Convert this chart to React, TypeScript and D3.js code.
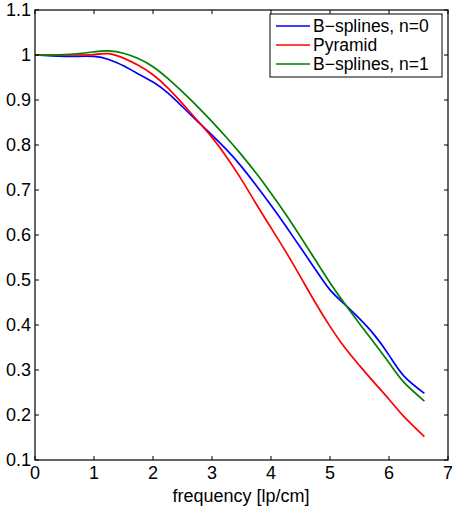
import React from "react";
import * as d3 from "d3";

const freq = [0, 0.5, 1.0, 1.25, 1.5, 1.75, 2.0, 2.25, 2.5, 2.75, 3.0, 3.25, 3.5, 3.75, 4.0, 4.25, 4.5, 4.75, 5.0, 5.25, 5.5, 5.75, 6.0, 6.25, 6.6];
const bsplines0 = [1.0, 0.997, 0.997, 0.99, 0.976, 0.958, 0.94, 0.916, 0.885, 0.853, 0.822, 0.789, 0.752, 0.71, 0.666, 0.62, 0.572, 0.524, 0.478, 0.446, 0.414, 0.378, 0.333, 0.287, 0.248];
const pyramid = [1.0, 1.0, 1.001, 1.003, 0.993, 0.977, 0.956, 0.927, 0.892, 0.855, 0.817, 0.773, 0.723, 0.669, 0.616, 0.563, 0.507, 0.45, 0.397, 0.35, 0.31, 0.272, 0.235, 0.197, 0.152];
const bsplines1 = [1.0, 1.001, 1.007, 1.009, 1.004, 0.992, 0.974, 0.948, 0.918, 0.886, 0.852, 0.816, 0.778, 0.737, 0.693, 0.646, 0.596, 0.545, 0.494, 0.447, 0.403, 0.36, 0.316, 0.273, 0.231];

const seriesNames = ["B\u2212splines, n=0", "Pyramid", "B\u2212splines, n=1"];
const seriesColors = ["#0000ff", "#ff0000", "#008000"];
const xTicks = [0, 1, 2, 3, 4, 5, 6, 7];
const yTicks = [0.1, 0.2, 0.3, 0.4, 0.5, 0.6, 0.7, 0.8, 0.9, 1, 1.1];
const xLabel = "frequency [lp/cm]";

export default function App() {
  const W = 452, H = 508;
  const left = 35, right = 448, top = 10, bottom = 460;
  const x = d3.scaleLinear().domain([0, 7]).range([left, right]);
  const y = d3.scaleLinear().domain([0.1, 1.1]).range([bottom, top]);
  const data = [bsplines0, pyramid, bsplines1];
  const line = d3.line<number>().x((_, i) => x(freq[i])).y((d) => y(d)).curve(d3.curveNatural);
  const font = "'Liberation Sans', Arial, Helvetica, sans-serif";
  const fs = 18;
  const tl = 4;
  const lgX = 270, lgY = 14, lgW = 172, lgH = 63, rowH = 19;
  return (
    <svg width={W} height={H} style={{ position: "absolute", left: 0, top: 0, background: "#fff" }} fontFamily={font}>
      <rect x={0} y={0} width={W} height={H} fill="#fff" />
      {data.map((s, k) => (
        <path key={k} d={line(s) || ""} fill="none" stroke={seriesColors[k]} strokeWidth={1.7} />
      ))}
      <rect x={left} y={top} width={right - left} height={bottom - top} fill="none" stroke="#000" strokeWidth={1.2} />
      {xTicks.map((t) => (
        <g key={"x" + t}>
          <line x1={x(t)} x2={x(t)} y1={bottom} y2={bottom - tl} stroke="#000" />
          <line x1={x(t)} x2={x(t)} y1={top} y2={top + tl} stroke="#000" />
          <text x={x(t)} y={bottom + 19} fontSize={fs} textAnchor="middle" fill="#000">{t}</text>
        </g>
      ))}
      {yTicks.map((t) => (
        <g key={"y" + t}>
          <line x1={left} x2={left + tl} y1={y(t)} y2={y(t)} stroke="#000" />
          <line x1={right} x2={right - tl} y1={y(t)} y2={y(t)} stroke="#000" />
          <text x={left - 4} y={y(t) + 6} fontSize={fs} textAnchor="end" fill="#000">{d3.format("~g")(t)}</text>
        </g>
      ))}
      <text x={241} y={502} fontSize={fs} textAnchor="middle" fill="#000">{xLabel}</text>
      <rect x={lgX} y={lgY} width={lgW} height={lgH} fill="#fff" stroke="#000" strokeWidth={1} />
      {seriesNames.map((n, k) => (
        <g key={n}>
          <line x1={lgX + 6} x2={lgX + 40} y1={lgY + 12 + k * rowH} y2={lgY + 12 + k * rowH} stroke={seriesColors[k]} strokeWidth={1.5} />
          <text x={lgX + 43} y={lgY + 18 + k * rowH} fontSize={17.5} fill="#000">{n}</text>
        </g>
      ))}
    </svg>
  );
}
